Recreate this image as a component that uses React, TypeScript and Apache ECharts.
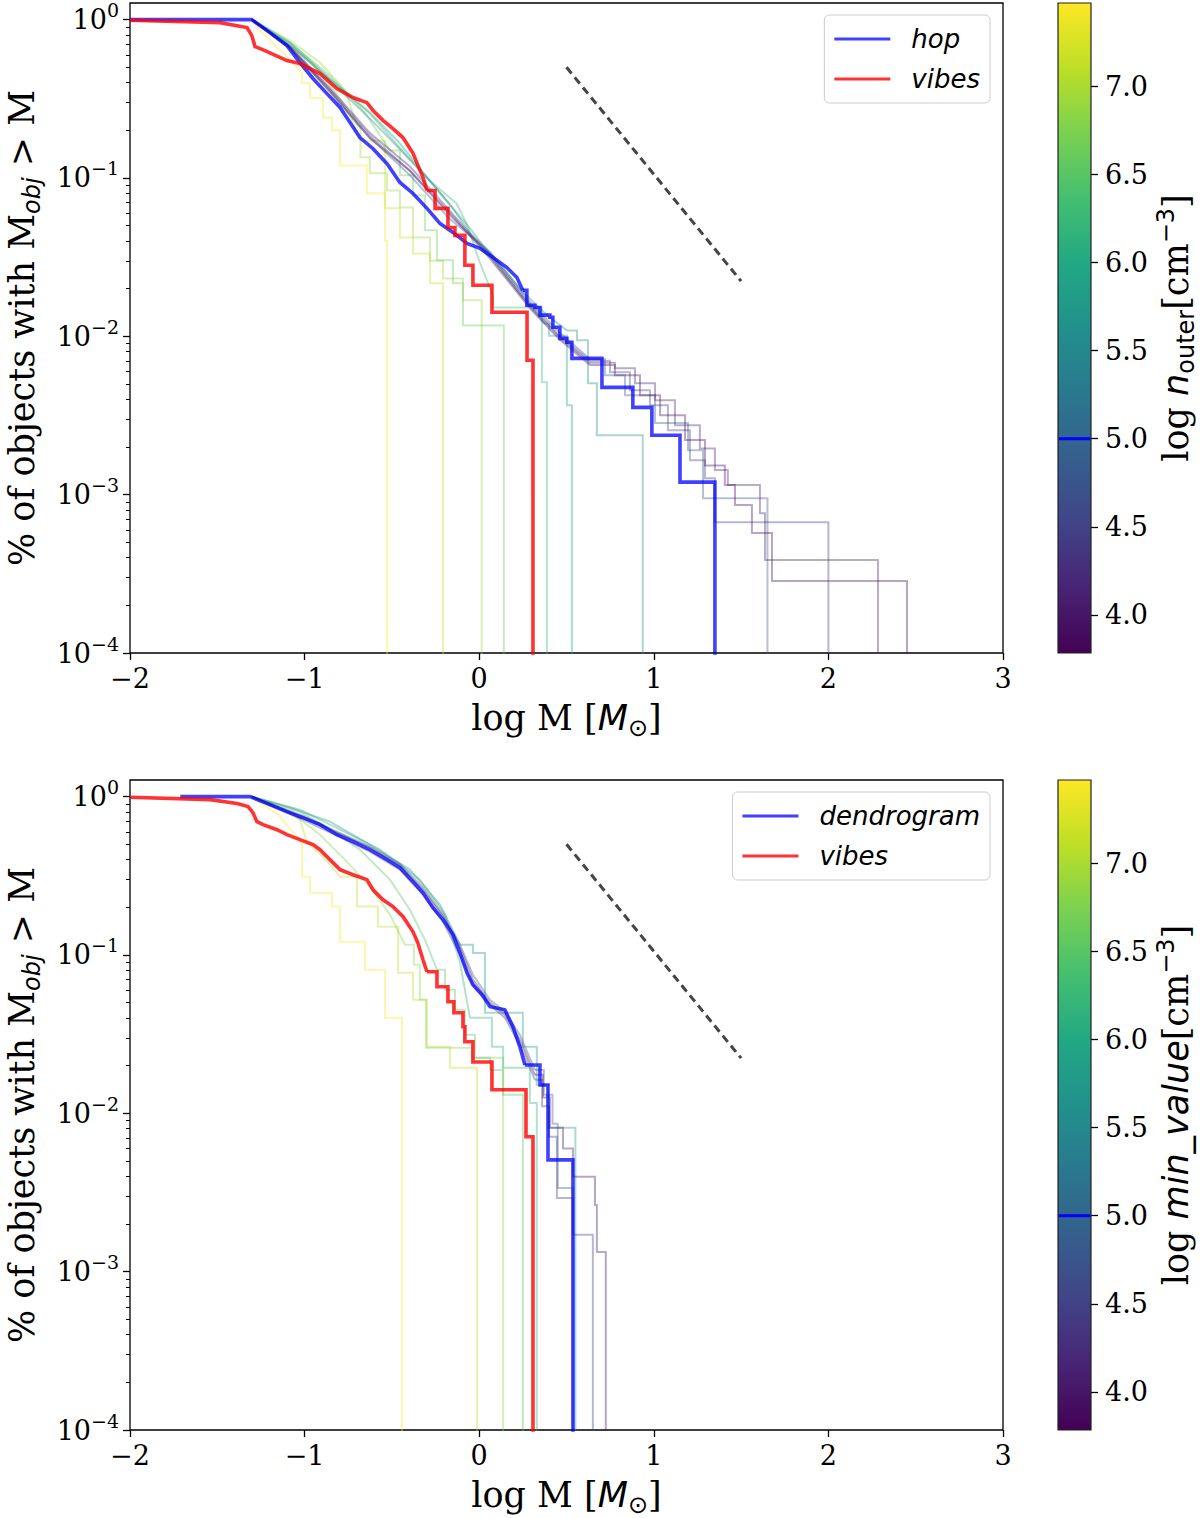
import React, { useEffect, useRef } from 'react';
import * as echarts from 'echarts';

type Pt = [number, number];

// ---------------- axes / scales ----------------
const X_TICKS_INTERVAL = 1;
const X_MIN = -2;
const X_MAX = 3;
const Y_DECADES = [-4, -3, -2, -1, 0];
const Y_MINOR_MULT = [2, 3, 4, 5, 6, 7, 8, 9];
const Y_MIN = -4;
const Y_MAX = 0.105;
const CB_TICKS = [4.0, 4.5, 5.0, 5.5, 6.0, 6.5, 7.0];
const CB_MIN = 3.784;
const CB_MAX = 7.471;
const TOP_MARK = 5.0;
const BOT_MARK = 5.0;
const VIRIDIS = ['#440154', '#482475', '#414487', '#355f8d', '#2a788e', '#21918c', '#22a884', '#44bf70', '#7ad151', '#bddf26', '#fde725'];

// reference slope (dashed)
const SLOPE_LINE: Pt[] = [[0.5, 0.5], [1.5, 0.0223]];

// ---------------- top panel: hop / vibes ----------------
const hopHead: Pt[] = [[-2.0, 1.0], [-1.303, 1.0], [-1.199, 0.828], [-1.101, 0.686], [-1.027, 0.536], [-0.952, 0.425], [-0.872, 0.341], [-0.797, 0.279], [-0.740, 0.224], [-0.683, 0.180], [-0.608, 0.153], [-0.528, 0.123], [-0.454, 0.0937], [-0.379, 0.0798], [-0.299, 0.0643], [-0.225, 0.0516], [-0.150, 0.0453], [-0.070, 0.0386], [0.005, 0.0359], [0.079, 0.0315], [0.159, 0.0272], [0.216, 0.0235], [0.250, 0.0195]];
const hopTail: Pt[] = [[0.250, 0.0195], [0.273, 0.0157], [0.319, 0.0152], [0.348, 0.0136], [0.405, 0.0132], [0.422, 0.0114], [0.462, 0.0097], [0.502, 0.00917], [0.531, 0.00726], [0.703, 0.00476], [0.880, 0.00356], [0.989, 0.00237], [1.150, 0.00120], [1.350, 0]];
const vibesTopHead: Pt[] = [[-2.0, 0.99], [-1.485, 0.957], [-1.330, 0.891], [-1.302, 0.792], [-1.284, 0.676], [-1.227, 0.637], [-1.101, 0.551], [-1.027, 0.528], [-0.912, 0.456], [-0.815, 0.367], [-0.723, 0.322], [-0.643, 0.299], [-0.608, 0.267], [-0.551, 0.231], [-0.494, 0.205], [-0.437, 0.180], [-0.379, 0.143], [-0.351, 0.120], [-0.322, 0.101], [-0.299, 0.0834]];
const vibesTopTail: Pt[] = [[-0.299, 0.0834], [-0.253, 0.0643], [-0.179, 0.0487], [-0.139, 0.0434], [-0.082, 0.0281], [-0.036, 0.0210], [0.073, 0.0142], [0.274, 0.00706], [0.308, 0]];

// top thin runs (log n_outer values)
const topThinValues = [7.45, 7.15, 6.9, 6.6, 6.25, 5.9, 5.6, 4.85, 4.5, 4.2, 3.95];
const topThin1Head: Pt[] = [[-1.303, 1.0], [-1.255, 0.85], [-1.10, 0.58], [-1.015, 0.46]];
const topThin1Tail: Pt[] = [[-1.015, 0.46], [-1.015, 0.40], [-0.969, 0.32], [-0.895, 0.24], [-0.843, 0.20], [-0.797, 0.12], [-0.643, 0.08], [-0.540, 0.04], [-0.528, 0]];
const topThin2Head: Pt[] = [[-1.303, 1.0], [-1.142, 0.759], [-0.969, 0.551], [-0.826, 0.356], [-0.740, 0.248], [-0.683, 0.172]];
const topThin2Tail: Pt[] = [[-0.683, 0.172], [-0.540, 0.0643], [-0.454, 0.0421], [-0.379, 0.0334], [-0.282, 0.0216], [-0.207, 0]];
const topThin3Head: Pt[] = [[-1.303, 1.0], [-1.083, 0.737], [-0.912, 0.536], [-0.769, 0.36], [-0.700, 0.214]];
const topThin3Tail: Pt[] = [[-0.700, 0.214], [-0.680, 0.135], [-0.626, 0.107], [-0.528, 0.0834], [-0.454, 0.0651], [-0.379, 0.0421], [-0.282, 0.0300], [-0.207, 0.0232], [-0.093, 0.0169], [0.014, 0]];
const topThin4Head: Pt[] = [[-1.303, 1.0], [-1.083, 0.716], [-0.855, 0.443], [-0.655, 0.259], [-0.511, 0.149]];
const topThin4Tail: Pt[] = [[-0.511, 0.149], [-0.454, 0.104], [-0.379, 0.0776], [-0.311, 0.0467], [-0.242, 0.0302], [-0.150, 0.0216], [-0.093, 0.0117], [0.141, 0]];
const topThin5Head: Pt[] = [[-1.303, 1.0], [-1.083, 0.686], [-0.855, 0.420], [-0.626, 0.255], [-0.454, 0.155], [-0.285, 0.0964], [-0.130, 0.0690], [-0.070, 0.0510], [0.000, 0.0300], [0.079, 0.0180]];
const topThin5Tail: Pt[] = [[0.079, 0.0180], [0.079, 0.0152], [0.359, 0.00513], [0.388, 0]];
const topThin6Head: Pt[] = [[-1.303, 1.0], [-1.083, 0.716], [-0.855, 0.425], [-0.626, 0.259], [-0.454, 0.165], [-0.311, 0.105], [-0.168, 0.068], [-0.053, 0.048], [0.090, 0.030], [0.233, 0.0185], [0.376, 0.0120]];
const topThin6Tail: Pt[] = [[0.376, 0.0120], [0.400, 0.0101], [0.502, 0.00367], [0.531, 0]];
const topThin7Head: Pt[] = [[-1.303, 1.0], [-1.083, 0.695], [-0.855, 0.412], [-0.626, 0.237], [-0.454, 0.152], [-0.285, 0.0964], [-0.168, 0.068], [-0.053, 0.045], [0.062, 0.034], [0.233, 0.0200], [0.376, 0.0140], [0.502, 0.0109]];
const topThin7Tail: Pt[] = [[0.502, 0.0109], [0.560, 0.00944], [0.623, 0.00505], [0.674, 0.00237], [0.937, 0]];
const topThin8Head: Pt[] = [[-1.303, 1.0], [-1.083, 0.656], [-0.855, 0.355], [-0.626, 0.180], [-0.397, 0.104], [-0.168, 0.055], [0.062, 0.034], [0.291, 0.0165], [0.462, 0.0105], [0.634, 0.0072]];
const topThin8Tail: Pt[] = [[0.634, 0.0072], [0.720, 0.00568], [0.835, 0.00425], [1.007, 0.00283], [1.196, 0.00191], [1.282, 0.00095], [1.651, 0]];
const topThin9Head: Pt[] = [[-1.303, 1.0], [-1.083, 0.666], [-0.855, 0.362], [-0.626, 0.185], [-0.397, 0.111], [-0.168, 0.058], [0.062, 0.033], [0.291, 0.0160], [0.462, 0.0100], [0.634, 0.0070]];
const topThin9Tail: Pt[] = [[0.634, 0.0070], [0.749, 0.00593], [0.863, 0.00456], [0.978, 0.00367], [1.081, 0.00255], [1.207, 0.00165], [1.293, 0.00127], [1.350, 0.00067], [2.000, 0]];
const topThin10Head: Pt[] = [[-1.303, 1.0], [-1.083, 0.676], [-0.855, 0.370], [-0.626, 0.192], [-0.397, 0.118], [-0.168, 0.062], [0.062, 0.032], [0.291, 0.0155], [0.462, 0.0098], [0.634, 0.0068]];
const topThin10Tail: Pt[] = [[0.634, 0.0068], [0.777, 0.00628], [0.892, 0.00505], [1.007, 0.00394], [1.121, 0.00274], [1.264, 0.00196], [1.350, 0.00143], [1.424, 0.00115], [1.608, 0.000764], [1.637, 0.000386], [2.284, 0]];
const topThin11Head: Pt[] = [[-1.303, 1.0], [-1.083, 0.666], [-0.855, 0.350], [-0.626, 0.178], [-0.397, 0.111], [-0.168, 0.060], [0.062, 0.031], [0.291, 0.0150], [0.462, 0.0095], [0.634, 0.0066]];
const topThin11Tail: Pt[] = [[0.634, 0.0066], [0.777, 0.00568], [0.921, 0.00425], [1.036, 0.00317], [1.179, 0.00221], [1.293, 0.00153], [1.407, 0.00115], [1.465, 0.000859], [1.562, 0.000572], [1.677, 0.000285], [2.450, 0]];

// ---------------- bottom panel: dendrogram / vibes ----------------
const dendroHead: Pt[] = [[-1.712, 1.0], [-1.312, 1.0], [-1.198, 0.890], [-1.101, 0.804], [-1.009, 0.736], [-0.912, 0.665], [-0.815, 0.575], [-0.723, 0.520], [-0.626, 0.462], [-0.528, 0.400], [-0.454, 0.356], [-0.379, 0.290], [-0.322, 0.247], [-0.265, 0.199], [-0.207, 0.167], [-0.150, 0.134], [-0.110, 0.103], [-0.070, 0.0773], [-0.036, 0.0649], [0.016, 0.0561], [0.062, 0.0471], [0.147, 0.0451], [0.193, 0.0352], [0.233, 0.0263], [0.262, 0.0202]];
const dendroTail: Pt[] = [[0.262, 0.0202], [0.348, 0.0151], [0.394, 0.00508], [0.537, 0]];
const vibesBotHead: Pt[] = [[-2.0, 0.99], [-1.542, 0.957], [-1.387, 0.904], [-1.324, 0.865], [-1.296, 0.792], [-1.273, 0.695], [-1.238, 0.665], [-1.158, 0.618], [-1.101, 0.575], [-1.027, 0.535], [-0.952, 0.498], [-0.912, 0.462], [-0.855, 0.400], [-0.797, 0.346], [-0.723, 0.321], [-0.643, 0.299], [-0.608, 0.258], [-0.551, 0.223], [-0.494, 0.202], [-0.437, 0.175], [-0.379, 0.140], [-0.351, 0.119], [-0.322, 0.0933], [-0.299, 0.0784]];
const vibesBotTail: Pt[] = [[-0.299, 0.0784], [-0.242, 0.0630], [-0.179, 0.0507], [-0.145, 0.0432], [-0.093, 0.0352], [-0.082, 0.0283], [-0.036, 0.0211], [0.073, 0.0141], [0.268, 0.00711], [0.308, 0]];

// bottom thin runs (log min_value values)
const botThinValues = [7.45, 7.1, 6.8, 6.5, 6.15, 5.8, 4.85, 4.45, 4.0];
const botThin1Head: Pt[] = [[-1.303, 1.0], [-1.150, 0.769], [-1.015, 0.512]];
const botThin1Tail: Pt[] = [[-1.015, 0.512], [-1.015, 0.312], [-0.969, 0.247], [-0.843, 0.202], [-0.797, 0.121], [-0.654, 0.0807], [-0.540, 0.0401], [-0.442, 0]];
const botThin2Head: Pt[] = [[-1.303, 1.0], [-1.198, 0.916], [-1.027, 0.716], [-0.986, 0.512], [-0.895, 0.418], [-0.797, 0.312]];
const botThin2Tail: Pt[] = [[-0.797, 0.312], [-0.700, 0.202], [-0.580, 0.151], [-0.465, 0.0773], [-0.379, 0.0521], [-0.299, 0.0263], [-0.167, 0.0194], [-0.012, 0]];
const botThin3Head: Pt[] = [[-1.303, 1.0], [-1.083, 0.804], [-0.912, 0.575], [-0.769, 0.400], [-0.626, 0.270], [-0.511, 0.180], [-0.425, 0.116]];
const botThin3Tail: Pt[] = [[-0.425, 0.116], [-0.374, 0.0867], [-0.340, 0.0521], [-0.305, 0.0259], [-0.041, 0.0224], [0.137, 0]];
const botThin4Head: Pt[] = [[-1.303, 1.0], [-1.027, 0.804], [-0.870, 0.640], [-0.683, 0.462], [-0.511, 0.299], [-0.397, 0.193], [-0.311, 0.125], [-0.242, 0.0807]];
const botThin4Tail: Pt[] = [[-0.242, 0.0807], [-0.196, 0.0603], [-0.139, 0.0451], [-0.082, 0.0313], [-0.024, 0.0224], [0.062, 0.0188], [0.137, 0.0131], [0.250, 0]];
const botThin5Head: Pt[] = [[-1.303, 1.0], [-1.027, 0.828], [-0.797, 0.618], [-0.568, 0.462], [-0.339, 0.299], [-0.196, 0.180], [-0.110, 0.090], [-0.053, 0.0401]];
const botThin5Tail: Pt[] = [[-0.053, 0.0401], [0.073, 0.0263], [0.137, 0.0194], [0.290, 0.0116], [0.330, 0]];
const botThin6Head: Pt[] = [[-1.303, 1.0], [-1.083, 0.851], [-0.855, 0.695], [-0.626, 0.498], [-0.397, 0.346], [-0.225, 0.208], [-0.110, 0.116]];
const botThin6Tail: Pt[] = [[-0.110, 0.116], [-0.036, 0.103], [0.033, 0.0432], [0.250, 0.0263], [0.330, 0.0151], [0.394, 0.0081], [0.551, 0]];
const botThin7Head: Pt[] = [[-1.303, 1.0], [-1.198, 0.904], [-1.009, 0.759], [-0.815, 0.601], [-0.626, 0.483], [-0.454, 0.377], [-0.322, 0.266], [-0.207, 0.180], [-0.110, 0.116], [-0.036, 0.075], [0.062, 0.0521], [0.147, 0.0438], [0.233, 0.0313], [0.319, 0.0188]];
const botThin7Tail: Pt[] = [[0.319, 0.0188], [0.370, 0.0131], [0.420, 0.0086], [0.450, 0.00338], [0.537, 0]];
const botThin8Head: Pt[] = [[-1.303, 1.0], [-1.198, 0.877], [-1.009, 0.716], [-0.815, 0.567], [-0.626, 0.449], [-0.454, 0.346], [-0.322, 0.240], [-0.207, 0.162], [-0.110, 0.100], [-0.036, 0.0649], [0.062, 0.0485], [0.147, 0.0401], [0.233, 0.0271], [0.319, 0.0163]];
const botThin8Tail: Pt[] = [[0.319, 0.0163], [0.360, 0.0111], [0.400, 0.0071], [0.445, 0.00292], [0.537, 0.00171], [0.651, 0]];
const botThin9Head: Pt[] = [[-1.303, 1.0], [-1.198, 0.890], [-1.009, 0.736], [-0.815, 0.593], [-0.626, 0.476], [-0.454, 0.366], [-0.322, 0.258], [-0.207, 0.175], [-0.110, 0.111], [-0.036, 0.0698], [0.062, 0.0499], [0.147, 0.0419], [0.233, 0.0291], [0.319, 0.0175]];
const botThin9Tail: Pt[] = [[0.319, 0.0175], [0.365, 0.0126], [0.405, 0.0081], [0.480, 0.0060], [0.537, 0.00397], [0.663, 0.00264], [0.674, 0.00133], [0.725, 0]];

// ---------------- styling helpers ----------------
const SERIF = 'DejaVu Serif';
const SANS = 'DejaVu Sans';
const BLUE = 'rgba(0,0,255,0.75)';
const RED = 'rgba(255,0,0,0.8)';

function hexRgb(h: string): number[] {
  return [parseInt(h.slice(1, 3), 16), parseInt(h.slice(3, 5), 16), parseInt(h.slice(5, 7), 16)];
}
function viridis(v: number, alpha: number): string {
  let t = (v - CB_MIN) / (CB_MAX - CB_MIN);
  t = Math.max(0, Math.min(1, t));
  const n = VIRIDIS.length - 1;
  const i = Math.min(n - 1, Math.floor(t * n));
  const f = t * n - i;
  const a = hexRgb(VIRIDIS[i]);
  const b = hexRgb(VIRIDIS[i + 1]);
  const c = a.map((x, k) => Math.round(x + (b[k] - x) * f));
  return `rgba(${c[0]},${c[1]},${c[2]},${alpha})`;
}
const toLog = (p: Pt) => [p[0], p[1] > 0 ? Math.log10(p[1]) : -6];
const minorTicks = Y_DECADES.slice(0, -1).flatMap((k) => Y_MINOR_MULT.map((m) => k + Math.log10(m)));
const minusFmt = (v: number) => (v < 0 ? '\u2212' + String(-v) : String(v));

function curveSeries(name: string, head: Pt[], tail: Pt[], color: string, width: number, xi: number, yi: number, z: number) {
  const base = {
    type: 'line',
    name,
    xAxisIndex: xi,
    yAxisIndex: yi,
    symbol: 'none',
    showSymbol: false,
    silent: true,
    z,
    color,
    itemStyle: { color },
    lineStyle: { color, width, cap: 'butt', join: 'miter' },
  };
  return [
    { ...base, data: head.map(toLog) },
    { ...base, data: tail.map(toLog), step: 'end' },
  ];
}

function buildOption() {
  const topThin = [
    [topThin1Head, topThin1Tail], [topThin2Head, topThin2Tail], [topThin3Head, topThin3Tail], [topThin4Head, topThin4Tail],
    [topThin5Head, topThin5Tail], [topThin6Head, topThin6Tail], [topThin7Head, topThin7Tail], [topThin8Head, topThin8Tail],
    [topThin9Head, topThin9Tail], [topThin10Head, topThin10Tail], [topThin11Head, topThin11Tail],
  ];
  const botThin = [
    [botThin1Head, botThin1Tail], [botThin2Head, botThin2Tail], [botThin3Head, botThin3Tail], [botThin4Head, botThin4Tail],
    [botThin5Head, botThin5Tail], [botThin6Head, botThin6Tail], [botThin7Head, botThin7Tail], [botThin8Head, botThin8Tail],
    [botThin9Head, botThin9Tail],
  ];

  const series: any[] = [];
  const panels = [
    { xi: 0, yi: 0, thin: topThin, values: topThinValues, mainName: 'hop', mainHead: hopHead, mainTail: hopTail, redHead: vibesTopHead, redTail: vibesTopTail, cbX: 2, cbY: 4, mark: TOP_MARK, tag: 'top' },
    { xi: 1, yi: 2, thin: botThin, values: botThinValues, mainName: 'dendrogram', mainHead: dendroHead, mainTail: dendroTail, redHead: vibesBotHead, redTail: vibesBotTail, cbX: 3, cbY: 5, mark: BOT_MARK, tag: 'bot' },
  ];
  const stops = VIRIDIS.map((c, i) => ({ offset: i / (VIRIDIS.length - 1), color: c }));

  panels.forEach((p) => {
    p.thin.forEach((c, i) => {
      series.push(...curveSeries(`${p.tag}-run-${i}`, c[0] as Pt[], c[1] as Pt[], viridis(p.values[i], 0.38), 2, p.xi, p.yi, 2));
    });
    series.push(...curveSeries(p.mainName, p.mainHead, p.mainTail, BLUE, 3.6, p.xi, p.yi, 3));
    series.push(...curveSeries('vibes', p.redHead, p.redTail, RED, 3.6, p.xi, p.yi, 4));
    series.push({
      type: 'line',
      name: `${p.tag}-slope`,
      xAxisIndex: p.xi,
      yAxisIndex: p.yi,
      symbol: 'none',
      silent: true,
      z: 5,
      data: SLOPE_LINE.map(toLog),
      lineStyle: { color: '#454545', width: 3, type: [8, 5] },
    });
    series.push({
      type: 'custom',
      name: `${p.tag}-colorbar`,
      xAxisIndex: p.cbX,
      yAxisIndex: p.cbY,
      silent: true,
      clip: false,
      data: [[0, p.mark]],
      renderItem: (params: any, api: any) => {
        const a = api.coord([0, CB_MAX]);
        const b = api.coord([1, CB_MIN]);
        const m = api.coord([0, api.value(1)]);
        return {
          type: 'group',
          children: [
            {
              type: 'rect',
              shape: { x: a[0], y: a[1], width: b[0] - a[0], height: b[1] - a[1] },
              style: { fill: new echarts.graphic.LinearGradient(0, 1, 0, 0, stops), stroke: '#222', lineWidth: 1.2 },
            },
            {
              type: 'line',
              shape: { x1: a[0] + 0.6, y1: m[1], x2: b[0] - 0.6, y2: m[1] },
              style: { stroke: '#0000ff', lineWidth: 3 },
            },
          ],
        };
      },
    });
  });

  const tickFont = { fontFamily: SERIF, fontSize: 27, color: '#000' };
  const titleRich = {
    r: { fontFamily: SERIF, fontSize: 35, lineHeight: 44, color: '#000' },
    i: { fontFamily: SANS, fontStyle: 'italic', fontSize: 35, lineHeight: 44, color: '#000' },
    s: { fontFamily: SANS, fontStyle: 'italic', fontSize: 24, lineHeight: 24, verticalAlign: 'bottom', color: '#000' },
    u: { fontFamily: SANS, fontSize: 24, lineHeight: 24, verticalAlign: 'bottom', color: '#000' },
    p: { fontFamily: SANS, fontSize: 24, lineHeight: 24, verticalAlign: 'top', color: '#000' },
  };

  const mainX = (gi: number) => ({
    gridIndex: gi,
    type: 'value',
    min: X_MIN,
    max: X_MAX,
    interval: X_TICKS_INTERVAL,
    axisLine: { show: false, onZero: false },
    axisTick: { show: true, inside: false, length: 7, lineStyle: { color: '#000', width: 1.3 } },
    axisLabel: { ...tickFont, margin: 12, formatter: minusFmt },
    splitLine: { show: false },
    name: '{r|log M [}{i|M}{u|\u2299}{r|]}',
    nameLocation: 'middle',
    nameGap: 43,
    nameTextStyle: { rich: titleRich },
  });
  const majorY = (gi: number) => ({
    gridIndex: gi,
    type: 'value',
    min: Y_MIN,
    max: Y_MAX,
    position: 'left',
    axisLine: { show: false, onZero: false },
    axisTick: { show: true, inside: false, length: 7, customValues: Y_DECADES, lineStyle: { color: '#000', width: 1.3 } },
    axisLabel: {
      customValues: Y_DECADES,
      margin: 11,
      formatter: (v: number) => `{b|10}{e|${minusFmt(v)}}`,
      rich: {
        b: { fontFamily: SERIF, fontSize: 27, lineHeight: 38, color: '#000' },
        e: { fontFamily: SERIF, fontSize: 19, lineHeight: 19, verticalAlign: 'top', color: '#000' },
      },
    },
    splitLine: { show: false },
    name: '{r|% of objects with M}{s|obj}{r| > M}',
    nameLocation: 'middle',
    nameRotate: 90,
    nameGap: 86,
    nameTextStyle: { rich: titleRich },
  });
  const minorY = (gi: number) => ({
    gridIndex: gi,
    type: 'value',
    min: Y_MIN,
    max: Y_MAX,
    position: 'left',
    axisLine: { show: false, onZero: false },
    axisTick: { show: true, inside: false, length: 4, customValues: minorTicks, lineStyle: { color: '#000', width: 1 } },
    axisLabel: { show: false },
    splitLine: { show: false },
  });
  const cbY = (gi: number, name: string) => ({
    gridIndex: gi,
    type: 'value',
    min: CB_MIN,
    max: CB_MAX,
    position: 'right',
    axisLine: { show: false, onZero: false },
    axisTick: { show: true, inside: false, length: 7, customValues: CB_TICKS, lineStyle: { color: '#000', width: 1.3 } },
    axisLabel: { ...tickFont, customValues: CB_TICKS, margin: 14, formatter: (v: number) => v.toFixed(1) },
    splitLine: { show: false },
    name,
    nameLocation: 'middle',
    nameRotate: 90,
    nameGap: 63,
    nameTextStyle: { rich: titleRich },
  });
  const cbX = (gi: number) => ({ gridIndex: gi, type: 'value', min: 0, max: 1, show: false });

  const legendBase = {
    orient: 'vertical',
    right: 210,
    icon: 'rect',
    itemWidth: 56,
    itemHeight: 3,
    itemGap: 14,
    padding: [11, 10, 11, 10],
    backgroundColor: 'rgba(255,255,255,0.8)',
    borderColor: '#cccccc',
    borderWidth: 1,
    borderRadius: 5,
    selectedMode: false,
    textStyle: { fontFamily: SANS, fontStyle: 'italic', fontSize: 26, color: '#000', padding: [0, 0, 0, 16] },
  };

  const gridBase = { outerBoundsMode: 'none', containLabel: false };

  return {
    animation: false,
    backgroundColor: '#ffffff',
    grid: [
      { ...gridBase, left: 130, top: 3, width: 873, height: 650, show: true, borderColor: '#000', borderWidth: 1.3, backgroundColor: 'transparent' },
      { ...gridBase, left: 130, top: 780, width: 873, height: 650, show: true, borderColor: '#000', borderWidth: 1.3, backgroundColor: 'transparent' },
      { ...gridBase, left: 1058, top: 3, width: 33, height: 650 },
      { ...gridBase, left: 1058, top: 780, width: 33, height: 650 },
    ],
    xAxis: [mainX(0), mainX(1), cbX(2), cbX(3)],
    yAxis: [
      majorY(0), minorY(0), majorY(1), minorY(1),
      cbY(2, '{r|log }{i|n}{u|outer}{r|[cm}{p|\u22123}{r|]}'),
      cbY(3, '{r|log }{i|min_value}{r|[cm}{p|\u22123}{r|]}'),
    ],
    legend: [
      { ...legendBase, top: 15, data: ['hop', 'vibes'] },
      { ...legendBase, top: 792, data: ['dendrogram', 'vibes'] },
    ],
    series,
  };
}

export default function App() {
  const ref = useRef<HTMLDivElement>(null);
  useEffect(() => {
    if (!ref.current) return;
    const chart = echarts.init(ref.current, undefined, { renderer: 'svg' });
    chart.setOption(buildOption() as any);
    return () => chart.dispose();
  }, []);
  return <div ref={ref} style={{ position: 'absolute', left: 0, top: 0, width: 1200, height: 1518 }} />;
}
